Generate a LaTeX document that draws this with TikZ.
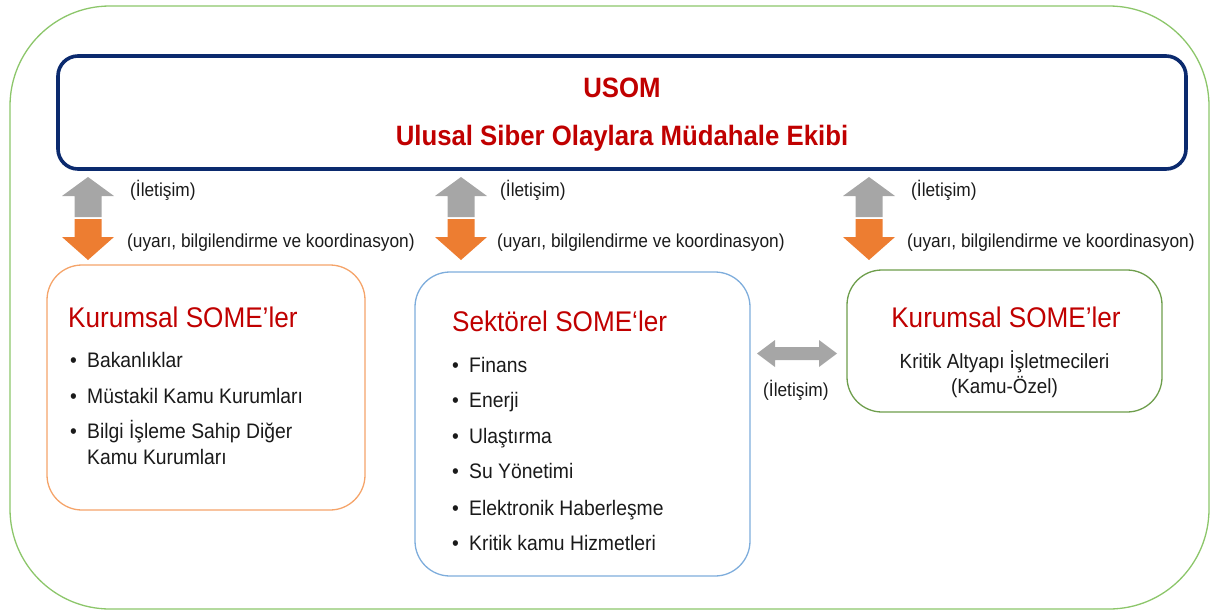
\documentclass[tikz,border=0pt]{standalone}
\usepackage{fontspec}
\setmainfont{Liberation Sans}[FakeStretch=0.92]
\definecolor{titlered}{HTML}{C00000}
\definecolor{navy}{HTML}{0B2A6E}
\definecolor{outergreen}{HTML}{8CC66A}
\definecolor{boxorange}{HTML}{F5A46A}
\definecolor{boxblue}{HTML}{7EADDC}
\definecolor{boxgreen}{HTML}{6E9E4C}
\definecolor{arrgray}{HTML}{A6A6A6}
\definecolor{arrorange}{HTML}{ED7D31}
\definecolor{txt}{HTML}{1A1A1A}
\begin{document}
\begin{tikzpicture}[x=1pt,y=-1pt,
  lbl/.style={font=\fontsize{18.8}{22}\selectfont, text=txt, anchor=base west, inner sep=0pt},
  ttl/.style={font=\fontsize{28.4}{32}\selectfont, text=titlered, inner sep=0pt},
  usomttl/.style={font=\bfseries\fontsize{28}{32}\selectfont, text=titlered, anchor=base, inner sep=0pt},
  itm/.style={font=\fontsize{21}{24}\selectfont, text=txt, anchor=base west, inner sep=0pt},
  ctr/.style={font=\fontsize{20.5}{24}\selectfont, text=txt, anchor=base, inner sep=0pt},
  panel/.style={draw, line width=1.3pt, fill=white, rounded corners=35pt, inner sep=0pt}
]
\useasboundingbox (0,0) rectangle (1210,611);
% outer frame
\node[draw=outergreen, line width=1.3pt, rounded corners=100pt, minimum width=1199pt, minimum height=603pt, inner sep=0pt] (frame) at (609.5,307.5) {};
% USOM box
\node[draw=navy, line width=3.6pt, rounded corners=20pt, minimum width=1128pt, minimum height=113pt, inner sep=0pt] (usom) at (622,112.5) {};
\node[usomttl] (usomA) at (622,97) {USOM};
\node[usomttl] (usomB) at (622,145) {Ulusal Siber Olaylara Müdahale Ekibi};
% vertical arrow pairs
\foreach \cx/\nm in {88/a,461/b,869/c}{
  \fill[arrgray] (\cx,177) -- (\cx+26,196) -- (\cx+13.5,196) -- (\cx+13.5,217) -- (\cx-13.5,217) -- (\cx-13.5,196) -- (\cx-26,196) -- cycle;
  \fill[arrorange] (\cx-13.5,219) -- (\cx+13.5,219) -- (\cx+13.5,237) -- (\cx+26,237) -- (\cx,260) -- (\cx-26,237) -- (\cx-13.5,237) -- cycle;
}
\node[lbl] (ila) at (130,196) {(İletişim)};
\node[lbl] (uya) at (127,247) {(uyarı, bilgilendirme ve koordinasyon)};
\node[lbl] (ilb) at (500,196) {(İletişim)};
\node[lbl] (uyb) at (497,247) {(uyarı, bilgilendirme ve koordinasyon)};
\node[lbl] (ilc) at (911,196) {(İletişim)};
\node[lbl] (uyc) at (907,247) {(uyarı, bilgilendirme ve koordinasyon)};
% left panel
\node[panel, draw=boxorange, minimum width=318pt, minimum height=245pt] (kur) at (206,387.5) {};
\node[ttl, anchor=base west] (kurT) at (68,327) {Kurumsal SOME’ler};
\node[itm] (k1b) at (70,367) {•};
\node[itm] (k1) at (87,367) {Bakanlıklar};
\node[itm] (k2b) at (70,403) {•};
\node[itm] (k2) at (87,403) {Müstakil Kamu Kurumları};
\node[itm] (k3b) at (70,438) {•};
\node[itm] (k3) at (87,438) {Bilgi İşleme Sahip Diğer};
\node[itm] (k4) at (87,464) {Kamu Kurumları};
% middle panel
\node[panel, draw=boxblue, minimum width=335pt, minimum height=304pt] (sek) at (582.5,424) {};
\node[ttl, anchor=base west] (sekT) at (452,331) {Sektörel SOME‘ler};
\foreach \y/\t/\n in {372/Finans/1,407/Enerji/2,443/Ulaştırma/3,478/Su Yönetimi/4,515/Elektronik Haberleşme/5,550/Kritik kamu Hizmetleri/6}{
  \node[itm] (s\n b) at (452,\y) {•};
  \node[itm] (s\n) at (469,\y) {\t};
}
% right panel
\node[panel, draw=boxgreen, minimum width=315pt, minimum height=142pt] (kri) at (1004.5,341) {};
\node[ttl, anchor=base] (kriT) at (1006,327) {Kurumsal SOME’ler};
\node[ctr] (kri1) at (1004.5,368) {Kritik Altyapı İşletmecileri};
\node[ctr] (kri2) at (1004.5,393) {(Kamu-Özel)};
% horizontal double arrow
\coordinate (hl) at (757,353.5);
\coordinate (hr) at (837,353.5);
\fill[arrgray] (hl) -- ++(18,-13.5) -- ++(0,7) -- ++(44,0) -- ++(0,-7) -- (hr) -- ++(-18,13.5) -- ++(0,-7) -- ++(-44,0) -- ++(0,7) -- cycle;
\node[lbl] (ild) at (763,396) {(İletişim)};
\end{tikzpicture}
\end{document}
